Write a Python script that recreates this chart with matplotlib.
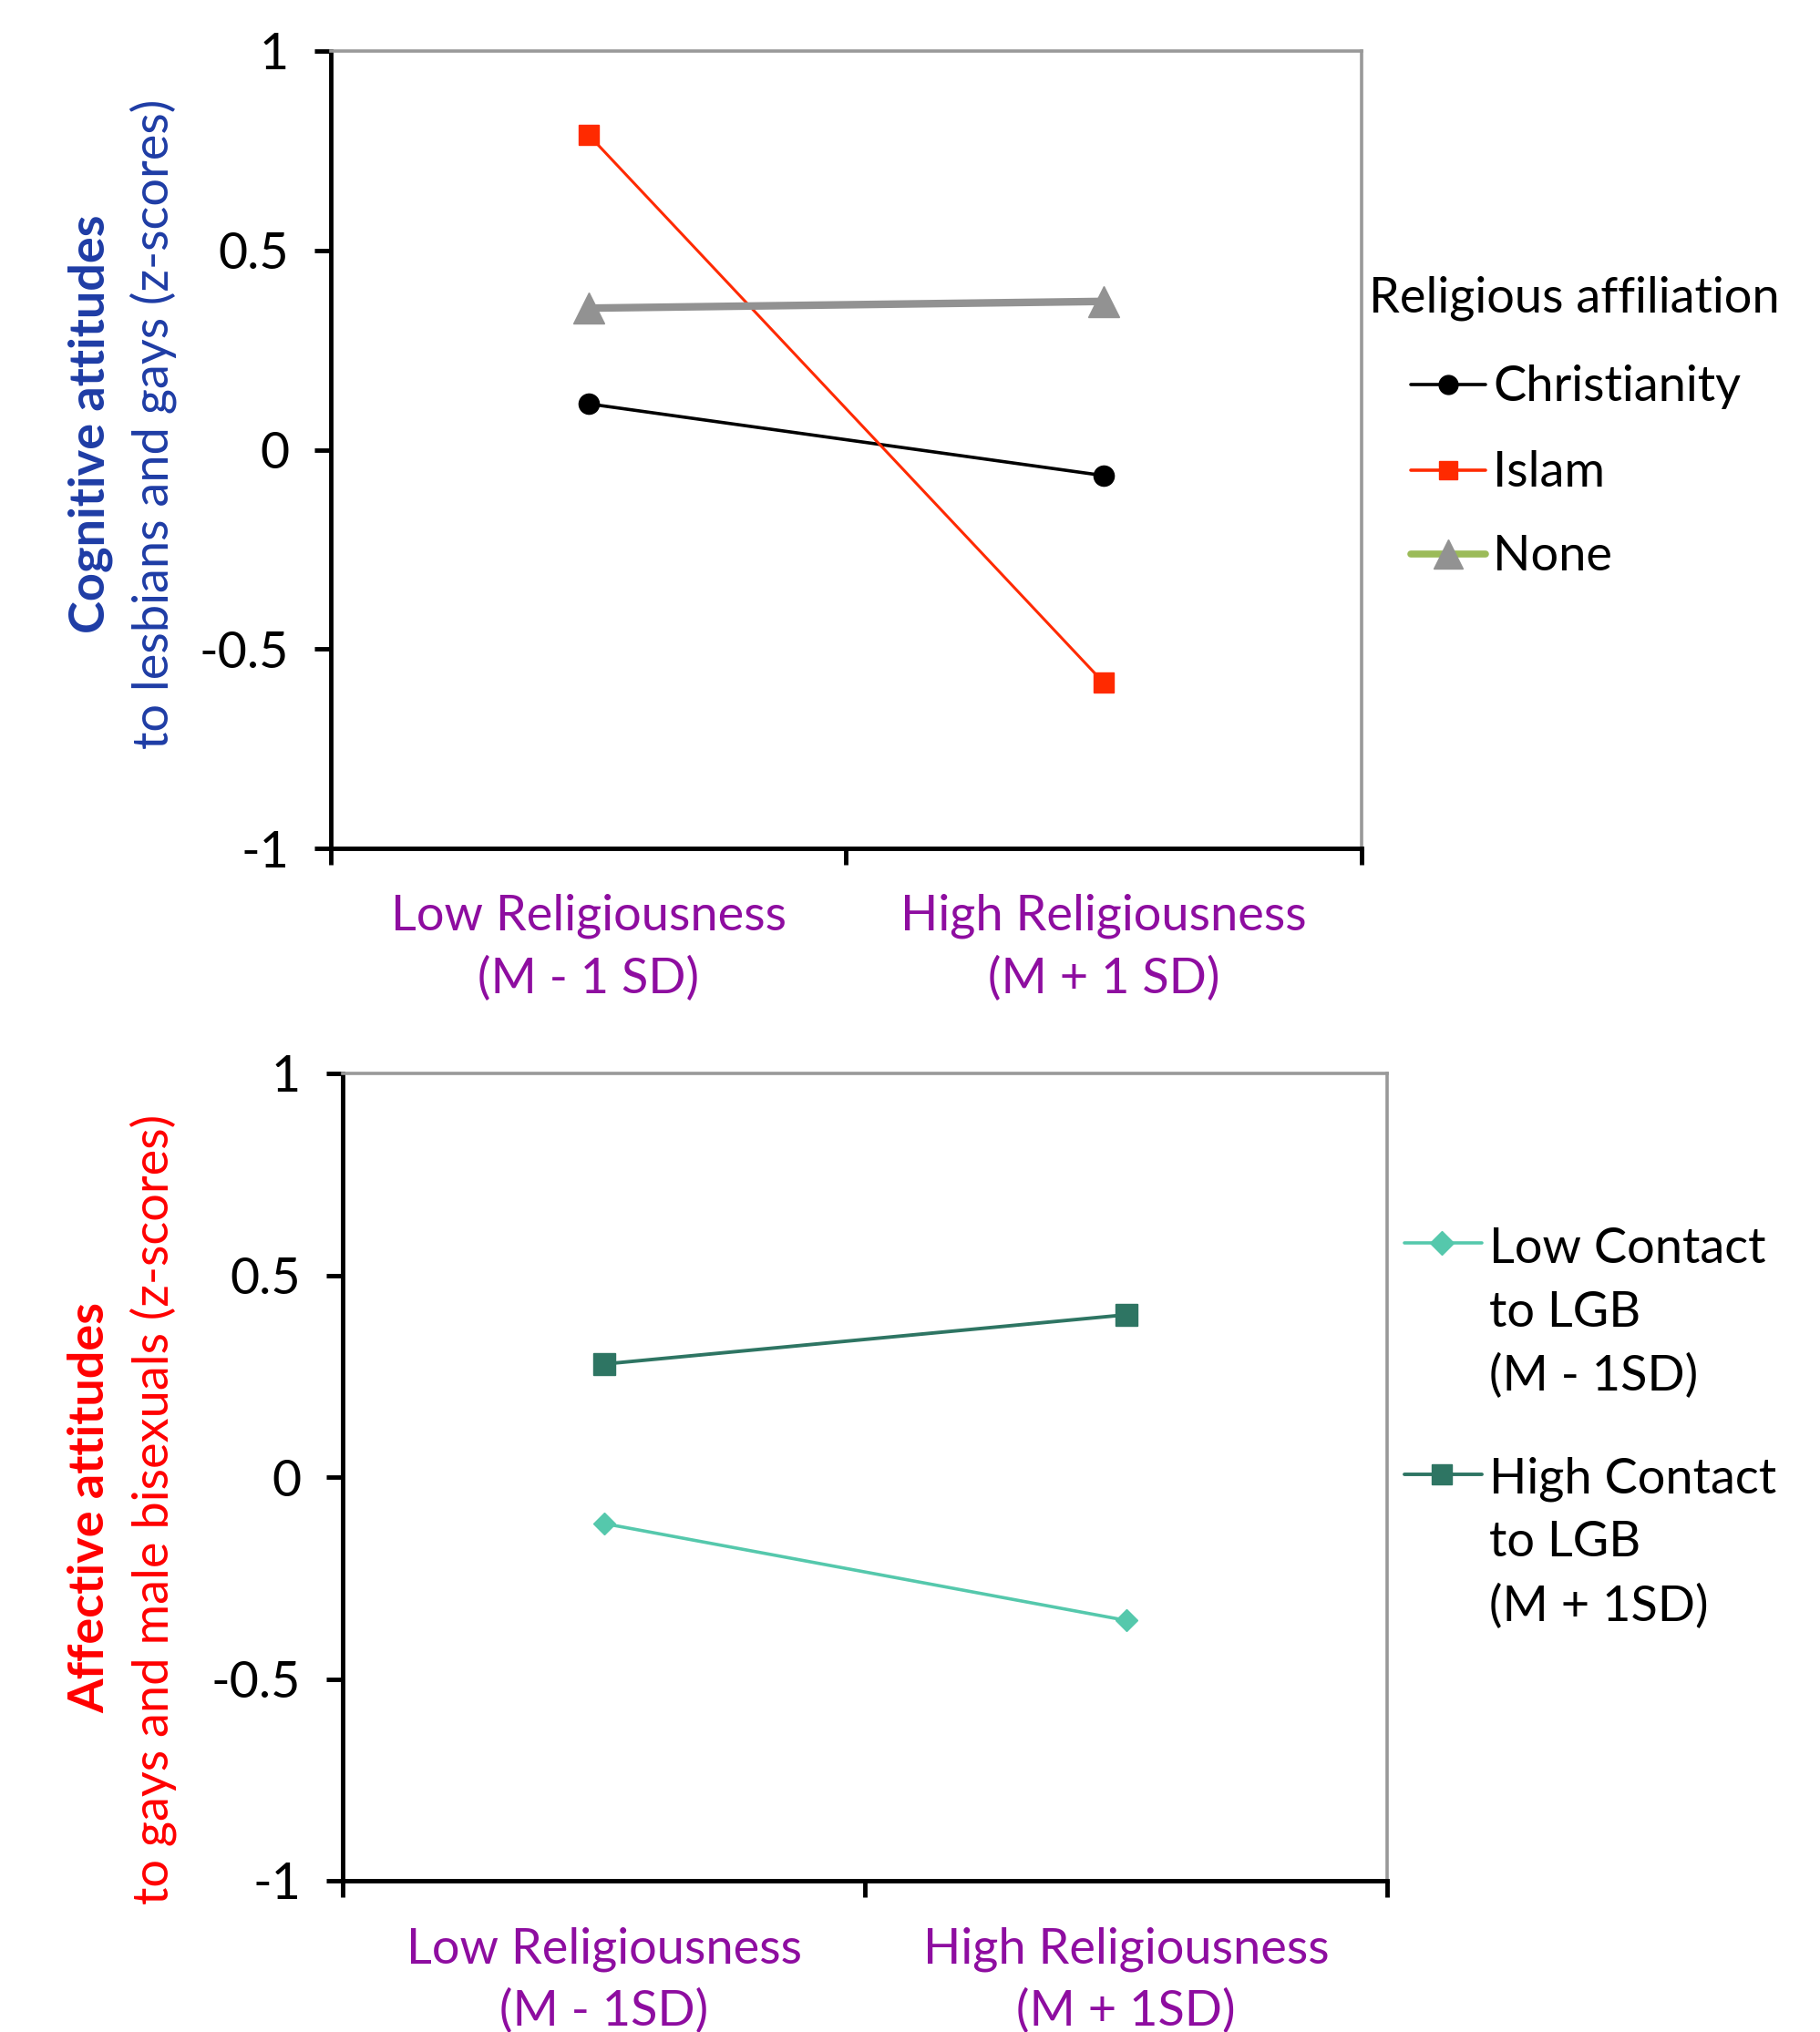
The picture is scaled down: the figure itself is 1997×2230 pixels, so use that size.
"""
plot.py
-------
Simple slopes of religiousness on attitudes toward lesbians, gays and bisexuals.
"""
import matplotlib
matplotlib.use("Agg")
import matplotlib.pyplot as plt
from matplotlib.lines import Line2D

plt.rcParams["font.family"] = ["Lato", "DejaVu Sans"]

# === Data ===
x_pos = [0.5, 1.5]
x_labels_top = ["Low Religiousness\n(M - 1 SD)", "High Religiousness\n(M + 1 SD)"]
x_labels_bottom = ["Low Religiousness\n(M - 1SD)", "High Religiousness\n(M + 1SD)"]

christianity = [0.115, -0.065]
islam = [0.79, -0.585]
none = [0.355, 0.372]

low_contact = [-0.115, -0.355]
high_contact = [0.28, 0.402]

yticks = [-1, -0.5, 0, 0.5, 1]
ytick_labels = ["-1", "-0.5", "0", "0.5", "1"]

PURPLE = "#8E0DA0"
W, H = 1997, 2230


def style_axes(ax, xlabels):
    ax.set_xlim(0, 2)
    ax.set_ylim(-1, 1)
    ax.set_yticks(yticks)
    ax.set_yticklabels(ytick_labels)
    ax.set_xticks([0, 1, 2])
    ax.set_xticklabels([])
    ax.set_xticks(x_pos, minor=True)
    ax.set_xticklabels(xlabels, minor=True, color=PURPLE, fontsize=39,
                       linespacing=1.45)
    ax.tick_params(axis="x", which="minor", length=0, pad=36)
    ax.tick_params(axis="x", which="major", direction="out", length=13, width=3.5)
    ax.tick_params(axis="y", direction="out", length=13, width=3.5,
                   labelsize=40, pad=20)
    for side in ["left", "bottom"]:
        ax.spines[side].set_color("black")
        ax.spines[side].set_linewidth(3.5)
    for side in ["top", "right"]:
        ax.spines[side].set_color("#999999")
        ax.spines[side].set_linewidth(2.6)


def px(x, y):
    return x / W, 1 - y / H


def legend_entry(fig, y, x0, x1, xm, color, lw, marker, ms, mcolor=None, lcolor=None):
    fx0, fy = px(x0, y)
    fx1, _ = px(x1, y)
    fxm, _ = px(xm, y)
    fig.add_artist(Line2D([fx0, fx1], [fy, fy], color=lcolor or color, lw=lw,
                          solid_capstyle="round", transform=fig.transFigure))
    fig.add_artist(Line2D([fxm], [fy], marker=marker, markersize=ms, lw=0,
                          color=mcolor or color, transform=fig.transFigure))


fig = plt.figure(figsize=(W / 100, H / 100), dpi=100)

# === Top panel: cognitive attitudes ===
ax1 = fig.add_axes([363 / W, 1 - 931 / H, (1494 - 363) / W, (931 - 56) / H])
ax1.plot(x_pos, christianity, color="black", lw=2.6, marker="o", markersize=16)
ax1.plot(x_pos, islam, color="#FF2A00", lw=2.2, marker="s", markersize=16)
ax1.plot(x_pos, none, color="#929292", lw=6, marker="^", markersize=24)
style_axes(ax1, x_labels_top)

fig.text(*px(99, 465), "Cognitive attitudes", rotation=90, ha="center", va="center",
         color="#1E3CA5", fontsize=39, fontweight="bold")
fig.text(*px(168, 465), "to lesbians and gays (z-scores)", rotation=90, ha="center",
         va="center", color="#1E3CA5", fontsize=39)

fig.text(*px(1502, 327), "Religious affiliation", ha="left", va="center", fontsize=39)
legend_entry(fig, 422, 1548, 1630, 1589, "black", 2.6, "o", 15)
fig.text(*px(1638, 424), "Christianity", ha="left", va="center", fontsize=39)
legend_entry(fig, 516, 1548, 1630, 1589, "#FF2A00", 2.6, "s", 15)
fig.text(*px(1638, 518), "Islam", ha="left", va="center", fontsize=39)
legend_entry(fig, 608, 1548, 1630, 1589, "#929292", 5.5, "^", 23, lcolor="#9BBB59")
fig.text(*px(1638, 610), "None", ha="left", va="center", fontsize=39)

# === Bottom panel: affective attitudes ===
ax2 = fig.add_axes([376 / W, 1 - 2064 / H, (1522 - 376) / W, (2064 - 1178) / H])
ax2.plot(x_pos, low_contact, color="#55C8AC", lw=2.6, marker="D", markersize=12)
ax2.plot(x_pos, high_contact, color="#2E7563", lw=2.8, marker="s", markersize=17)
style_axes(ax2, x_labels_bottom)

fig.text(*px(99, 1654), "Affective attitudes", rotation=90, ha="center", va="center",
         color="#FF0000", fontsize=39, fontweight="bold")
fig.text(*px(168, 1656), "to gays and male bisexuals (z-scores)", rotation=90,
         ha="center", va="center", color="#FF0000", fontsize=39)

legend_entry(fig, 1364, 1541, 1626, 1582, "#55C8AC", 2.6, "D", 13)
for i, line in enumerate(["Low Contact", "to LGB", "(M - 1SD)"]):
    fig.text(*px(1634, 1370 + 70 * i), line, ha="left", va="center", fontsize=39)
legend_entry(fig, 1618, 1541, 1626, 1582, "#2E7563", 2.8, "s", 16)
for i, line in enumerate(["High Contact", "to LGB", "(M + 1SD)"]):
    fig.text(*px(1634, 1623 + 70 * i), line, ha="left", va="center", fontsize=39)

fig.savefig("out.png", dpi=100)
